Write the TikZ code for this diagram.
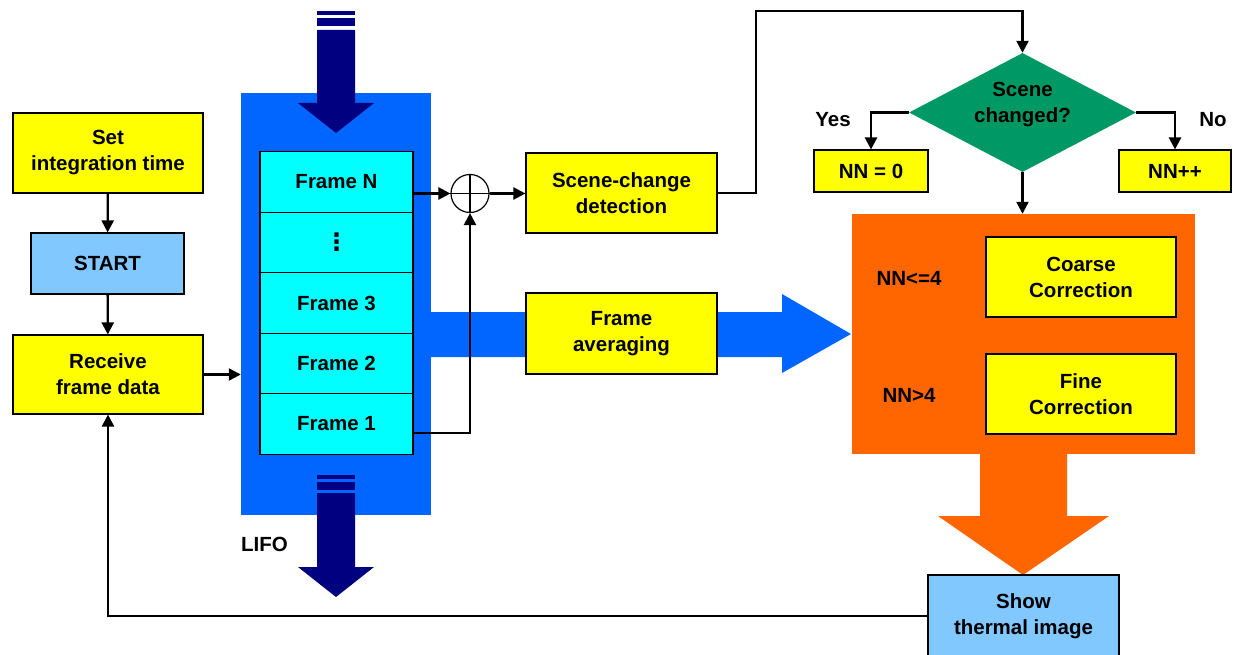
\documentclass[tikz,border=0pt]{standalone}
\usepackage{fontspec}
\setmainfont{Liberation Sans}
\newfontfamily\symfont{DejaVu Sans}
\usetikzlibrary{arrows.meta,shapes.geometric,calc}
\definecolor{procyellow}{HTML}{FFFF00}
\definecolor{skyblue}{HTML}{80C8FF}
\definecolor{framecyan}{HTML}{00FFFF}
\definecolor{lifoblue}{HTML}{0066FF}
\definecolor{stacknavy}{HTML}{000080}
\definecolor{corrorange}{HTML}{FF6600}
\definecolor{decgreen}{HTML}{009966}
\begin{document}
\begin{tikzpicture}[x=1pt,y=-1pt,
  font=\fontsize{20.5}{26}\selectfont\bfseries,
  box/.style={draw=black, line width=1.1pt, align=center, inner sep=0pt},
  ybox/.style={box, fill=procyellow},
  bbox/.style={box, fill=skyblue},
  frm/.style={box, fill=framecyan, minimum width=153pt, minimum height=60.5pt},
  wire/.style={line width=2.3pt},
  conn/.style={wire, -{Triangle[length=12pt,width=12pt]}},
  navyarrow/.style={fill=stacknavy, draw=none},
  lbl/.style={inner sep=0pt}
]
\useasboundingbox (0,0) rectangle (1233,655);

% left column
\node[ybox, minimum width=190pt, minimum height=80pt] (set) at (108,153) {Set\\integration time};
\node[bbox, minimum width=153pt, minimum height=61pt] (start) at (107.5,263.5) {START};
\node[ybox, minimum width=190pt, minimum height=79pt] (recv) at (108,374.5) {Receive\\frame data};
\draw[conn] (set) -- (start);
\draw[conn] (start) -- (recv);

% LIFO stack
\node[fill=lifoblue, draw=none, minimum width=190pt, minimum height=422pt, inner sep=0pt] (lifo) at (336,304) {};
\node[frm] (fN) at (336.5,182) {Frame N};
\node[frm] (fdots) at (336.5,242.5) {\symfont\fontsize{24}{26}\selectfont ⋮};
\node[frm] (f3) at (336.5,303) {Frame 3};
\node[frm] (f2) at (336.5,363.5) {Frame 2};
\node[frm] (f1) at (336.5,424) {Frame 1};
\node[lbl, anchor=west] (lifolbl) at (241,544) {LIFO};

% push arrow (top) and pop arrow (bottom)
\fill[navyarrow] (317,11) rectangle (355,15);
\fill[navyarrow] (317,18) rectangle (355,26);
\fill[navyarrow] (317,30) -- (355,30) -- (355,103) -- (374,103) -- (336,133) -- (298,103) -- (317,103) -- cycle;
\fill[navyarrow] (317,475) rectangle (355,479);
\fill[navyarrow] (317,482) rectangle (355,490);
\fill[navyarrow] (317,493) -- (355,493) -- (355,567) -- (374,567) -- (336,597) -- (298,567) -- (317,567) -- cycle;

\draw[conn] (recv.east) -- (lifo.west |- recv.east);

% averaging path (wide blue arrow)
\fill[lifoblue] (431,312) -- (782,312) -- (782,294) -- (851,334) -- (782,373) -- (782,357) -- (431,357) -- cycle;
\node[ybox, minimum width=191pt, minimum height=81pt] (avg) at (621.5,333.5) {Frame\\averaging};

% summing junction
\node[circle, draw=black, line width=1.2pt, minimum size=38pt, inner sep=0pt] (plus) at (470,193.5) {};
\draw[line width=1.2pt] (plus.north) -- (plus.south) (plus.west) -- (plus.east);
\node[ybox, minimum width=191pt, minimum height=80pt] (scd) at (621.5,193) {Scene-change\\detection};
\draw[conn] (fN.east |- plus.west) -- (plus.west);
\draw[conn] (f1.east |- 0,433) -| (plus.south);
\draw[conn] (plus.east) -- (scd.west |- plus.east);

% decision
\node[diamond, fill=decgreen, draw=none, aspect=1.9, minimum width=227pt, minimum height=119pt, inner sep=0pt] (dec) at (1022.5,112.5) {};
\node[lbl, align=center] (dectext) at (1022.5,104.5) {Scene\\changed?};
\coordinate (over) at (756,11);
\draw[conn] (scd.east) -| (over) -| (dec.north);

\node[ybox, minimum width=114pt, minimum height=42pt] (nn0) at (871,171) {NN = 0};
\node[ybox, minimum width=112pt, minimum height=42pt] (nninc) at (1175,171) {NN++};
\draw[conn] (dec.west) -| (nn0.north);
\draw[conn] (dec.east) -| (nninc.north);
\node[lbl] (yes) at (833,120) {Yes};
\node[lbl] (no) at (1213,120) {No};

% correction block
\node[fill=corrorange, draw=none, minimum width=343pt, minimum height=240pt, inner sep=0pt] (corr) at (1023.5,334) {};
\draw[conn] (dec.south) -- (dec.south |- corr.north);
\node[ybox, minimum width=190pt, minimum height=80pt] (coarse) at (1081,277) {Coarse\\Correction};
\node[ybox, minimum width=190pt, minimum height=80pt] (fine) at (1081,394) {Fine\\Correction};
\node[lbl] (le4) at (909,278) {NN<=4};
\node[lbl] (gt4) at (909,395) {NN>4};
\fill[corrorange] (980,452) -- (1067,452) -- (1067,516) -- (1109,516) -- (1023,575) -- (938,516) -- (980,516) -- cycle;

% display and feedback
\node[bbox, minimum width=191pt, minimum height=82pt] (show) at (1023.5,616) {Show\\thermal image};
\draw[conn] (show.west) -| (recv.south);
\end{tikzpicture}
\end{document}
